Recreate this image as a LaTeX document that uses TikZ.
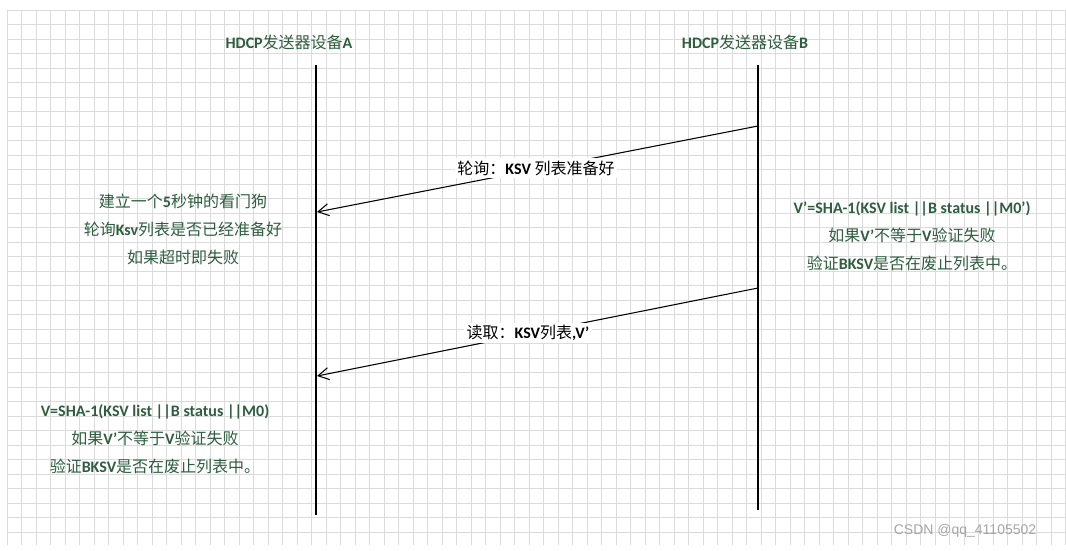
\documentclass[tikz,border=0pt]{standalone}
\usepackage{fontspec}
\setmainfont{Carlito}
\newfontfamily\cjk{Noto Sans CJK SC}
\newcommand{\zh}[1]{{\cjk #1}}
\newfontfamily\wm{Liberation Sans}
\definecolor{tgreen}{HTML}{2E5E3E}
\begin{document}
\begin{tikzpicture}[x=0.75pt,y=-0.75pt,
  lbl/.style={text=tgreen,font=\fontsize{12}{21}\selectfont,align=center,inner sep=0pt},
  life/.style={line width=2.2pt},
  msg/.style={line width=0.8pt,->,>={Straight Barb[length=8pt,width=9pt]}}]
\usetikzlibrary{arrows.meta}
\useasboundingbox (0,0) rectangle (1066,550);
\fill[white] (0,0) rectangle (1066,550);
\foreach \i in {0,...,73} \draw[gray!28,line width=0.5pt] ({7+14.5*\i},10) -- ({7+14.5*\i},545);
\foreach \j in {0,...,36} \draw[gray!28,line width=0.5pt] (7,{10+14.5*\j}) -- (1066,{10+14.5*\j});
\node[lbl] (ta) at (289,42) {\textbf{HDCP}\zh{发送器设备}\textbf{A}};
\node[lbl] (tb) at (745,42) {\textbf{HDCP}\zh{发送器设备}\textbf{B}};
\coordinate (a0) at (316,65); \coordinate (a1) at (316,515);
\coordinate (b0) at (758,65); \coordinate (b1) at (758,510);
\draw[life] (a0) -- (a1);
\draw[life] (b0) -- (b1);
\coordinate (m1s) at (758,126); \coordinate (m1e) at (317,212);
\coordinate (m2s) at (758,288); \coordinate (m2e) at (317,376);
\draw[msg] (m1s) -- (m1e);
\draw[msg] (m2s) -- (m2e);
\node[lbl,text=black,fill=white,inner sep=2pt] (l1) at (536,168) {\zh{轮询：}\textbf{KSV} \zh{列表准备好}};
\node[lbl,text=black,fill=white,inner sep=2pt] (l2) at (528,333) {\zh{读取：}\textbf{KSV}\zh{列表}\textbf{,V’}};
\node[lbl] (n1) at (183,229) {\zh{建立一个}\textbf{5}\zh{秒钟的看门狗}\\\zh{轮询}\textbf{Ksv}\zh{列表是否已经准备好}\\\zh{如果超时即失败}};
\node[lbl] (n2) at (912,236) {\textbf{V’=SHA-1(KSV list ||B status ||M0’)}\\\zh{如果}\textbf{V’}\zh{不等于}\textbf{V}\zh{验证失败}\\\zh{验证}\textbf{BKSV}\zh{是否在废止列表中。}};
\node[lbl] (n3) at (155,439) {\textbf{V=SHA-1(KSV list ||B status ||M0)}\\\zh{如果}\textbf{V’}\zh{不等于}\textbf{V}\zh{验证失败}\\\zh{验证}\textbf{BKSV}\zh{是否在废止列表中。}};
\node[text=gray!70,font=\wm\fontsize{10.5}{12}\selectfont,inner sep=0pt] (wm) at (965,531) {CSDN @qq\_41105502};
\end{tikzpicture}
\end{document}
